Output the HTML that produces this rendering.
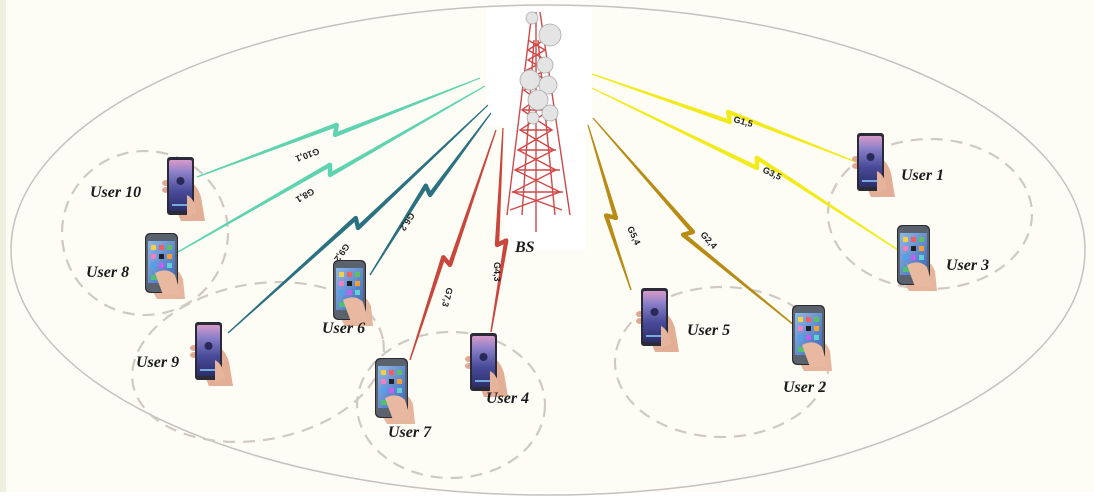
<!DOCTYPE html>
<html><head><meta charset="utf-8"><style>
html,body{margin:0;padding:0;background:#fff}
svg{display:block}
.u{font-family:"Liberation Serif",serif;font-style:italic;font-weight:bold;font-size:16px;fill:#1a1a1a}
.g{font-family:"Liberation Sans",sans-serif;font-weight:bold;font-size:9px;fill:#222}
</style></head><body>
<svg id="s" width="1094" height="503" viewBox="0 0 1094 503" xmlns="http://www.w3.org/2000/svg">
<defs>
<linearGradient id="scrA" x1="0" y1="0" x2="0" y2="1">
<stop offset="0" stop-color="#d79ac8"/><stop offset="0.25" stop-color="#8a7fc8"/><stop offset="0.6" stop-color="#4a4c9a"/><stop offset="1" stop-color="#2c2e6a"/></linearGradient>
<linearGradient id="scrB" x1="0" y1="0" x2="1" y2="1">
<stop offset="0" stop-color="#8fb8e8"/><stop offset="1" stop-color="#3c66b8"/></linearGradient>
<g id="pa">
<path d="M18 22 Q30 26 34 40 L38 64 L14 64 L8 50 Z" fill="#e2ae95"/>
<ellipse cx="-1" cy="26" rx="4" ry="3" fill="#e0a890"/>
<ellipse cx="-1" cy="33" rx="4" ry="3" fill="#e0a890"/>
<rect x="0" y="0" width="27" height="58" rx="3" fill="#2b2b38"/>
<rect x="2" y="3" width="23" height="51" rx="2" fill="url(#scrA)"/>
<circle cx="13.5" cy="24" r="4" fill="#2a2a5a"/>
<rect x="5" y="47" width="17" height="2" fill="#7ad"/>
<path d="M20 38 Q28 42 30 56 L20 60 Z" fill="#e6b49b"/>
</g>
<g id="pb">
<path d="M16 30 Q32 32 38 46 L40 66 L12 66 L4 52 Z" fill="#e5b59c"/>
<rect x="0" y="0" width="33" height="60" rx="5" fill="#2a2a30"/>
<rect x="1" y="1" width="31" height="58" rx="5" fill="#8a9aaa" opacity="0.5"/>
<rect x="3" y="8" width="27" height="42" fill="url(#scrB)"/>
<rect x="6" y="12" width="5" height="5" fill="#f5d040"/><rect x="14" y="12" width="5" height="5" fill="#f06060"/><rect x="22" y="12" width="5" height="5" fill="#60c060"/>
<rect x="6" y="21" width="5" height="5" fill="#f080c0"/><rect x="14" y="21" width="5" height="5" fill="#222"/><rect x="22" y="21" width="5" height="5" fill="#f5a030"/>
<rect x="6" y="30" width="5" height="5" fill="#50a0f0"/><rect x="14" y="30" width="5" height="5" fill="#c060f0"/><rect x="22" y="30" width="5" height="5" fill="#60d0d0"/>
<rect x="6" y="42" width="21" height="5" fill="#50c070"/>
<circle cx="16.5" cy="55" r="2.5" fill="#555"/>
<path d="M10 40 Q22 34 30 42 L36 62 L18 62 Z" fill="#e8b8a0"/>
</g>
</defs>
<rect width="1094" height="503" fill="#fdfdf6"/>
<rect x="0" y="0" width="6" height="503" fill="#eef0e0"/>
<rect x="0" y="492" width="1094" height="11" fill="#fff"/>
<ellipse cx="548" cy="250" rx="537" ry="245" fill="none" stroke="#c4c2bc" stroke-width="1.5"/>
<g fill="none" stroke="#cfc9c2" stroke-width="2.2" stroke-dasharray="12 8">
<ellipse cx="145" cy="233" rx="83" ry="82"/>
<ellipse cx="258" cy="362" rx="127" ry="78" transform="rotate(-10 258 362)"/>
<ellipse cx="451" cy="405" rx="94" ry="73"/>
<ellipse cx="722" cy="362" rx="107" ry="75"/>
<ellipse cx="930" cy="214" rx="102" ry="75"/>
</g>
<!-- tower -->
<rect x="487" y="8" width="105" height="118" fill="#fff"/>
<rect x="505" y="120" width="80" height="130" fill="#fff"/>
<g stroke="#d04848" stroke-width="1.4" fill="none">
<path d="M532 12 L507 215 M540 12 L570 215 M536 12 L536 232 M534 40 L522 215 M538 40 L555 215"/>
<path d="M528 40 L545 50 L528 60 L546 70 L526 80 L548 90 L522 110 L552 130 L518 150 L556 170 L513 192 L562 210"/>
<path d="M544 40 L528 50 L546 60 L527 70 L547 80 L524 90 L550 110 L520 130 L554 150 L515 170 L560 192 L510 210"/>
<path d="M520 130 L552 130 M518 150 L556 150 M515 170 L560 170 M512 192 L563 192 M523 110 L550 110"/>
</g>
<g fill="#e4e4e4" stroke="#aaa" stroke-width="0.8">
<circle cx="550" cy="35" r="11"/><circle cx="545" cy="65" r="8"/><circle cx="530" cy="80" r="10"/>
<circle cx="548" cy="85" r="9"/><circle cx="538" cy="100" r="10"/><circle cx="550" cy="113" r="8"/><circle cx="532" cy="18" r="6"/>
<circle cx="533" cy="118" r="6"/>
</g>
<text class="u" x="515" y="252">BS</text>
<g id="links"></g>
<text class="g" transform="translate(318,148) rotate(160)">G10,1</text>
<text class="g" transform="translate(312,188) rotate(150)">G8,1</text>
<text class="g" transform="translate(345,243) rotate(125)">G9,2</text>
<text class="g" transform="translate(410,212) rotate(123)">G6,2</text>
<text class="g" transform="translate(447,287) rotate(105)">G7,3</text>
<text class="g" transform="translate(494,262) rotate(90)">G4,3</text>
<text class="g" transform="translate(627,228) rotate(65)">G5,4</text>
<text class="g" transform="translate(700,235) rotate(48)">G2,4</text>
<text class="g" transform="translate(733,122) rotate(15)">G1,5</text>
<text class="g" transform="translate(762,172) rotate(25)">G3,5</text>
<use href="#pa" x="167" y="157"/>
<use href="#pb" x="145" y="233"/>
<use href="#pa" x="195" y="322"/>
<use href="#pb" x="333" y="260"/>
<use href="#pb" x="375" y="358"/>
<use href="#pa" x="470" y="333"/>
<use href="#pa" x="641" y="288"/>
<use href="#pb" x="792" y="305"/>
<use href="#pa" x="857" y="133"/>
<use href="#pb" x="897" y="225"/>
<text class="u" x="90" y="197">User 10</text>
<text class="u" x="86" y="277">User 8</text>
<text class="u" x="136" y="367">User 9</text>
<text class="u" x="322" y="333">User 6</text>
<text class="u" x="388" y="437">User 7</text>
<text class="u" x="486" y="403">User 4</text>
<text class="u" x="687" y="335">User 5</text>
<text class="u" x="783" y="392">User 2</text>
<text class="u" x="901" y="180">User 1</text>
<text class="u" x="946" y="270">User 3</text>
</svg>
<script>
var L=[
[480,78,335,135,197,177,"#5fd3b0",1],
[485,86,330,175,178,252,"#5fd3b0",1],
[488,105,358,228,228,333,"#2b7182",1],
[491,113,430,195,370,275,"#2b7182",1],
[496,130,450,265,410,360,"#c9463c",1],
[503,128,497,245,491,332,"#c9463c",-1],
[588,125,616,218,631,290,"#b88c14",1],
[593,118,693,232,800,330,"#b88c14",1],
[592,74,730,122,856,162,"#f2ea1a",-1],
[592,88,757,168,898,250,"#f2ea1a",-1]];
var g=document.getElementById('links'),ns="http://www.w3.org/2000/svg";
L.forEach(function(a){
var dx=a[4]-a[0],dy=a[5]-a[1],len=Math.hypot(dx,dy),ux=dx/len,uy=dy/len,nx=-uy*a[7],ny=ux*a[7];
var h=9,px=a[2],py=a[3];
var q1=[px+nx*h-ux*5,py+ny*h-uy*5];
function seg(x1,y1,x2,y2,w1,w2){var p=document.createElementNS(ns,'polygon');
var ddx=x2-x1,ddy=y2-y1,l=Math.hypot(ddx,ddy),mx=-ddy/l,my=ddx/l;
p.setAttribute('points',[x1+mx*w1,y1+my*w1,x2+mx*w2,y2+my*w2,x2-mx*w2,y2-my*w2,x1-mx*w1,y1-my*w1].join(','));
p.setAttribute('fill',a[6]);g.appendChild(p);}
seg(a[0],a[1],px,py,0.6,2.2);
seg(px,py,q1[0],q1[1],2.2,2.2);
seg(q1[0],q1[1],a[4],a[5],2.2,0.7);
[[px,py],q1].forEach(function(pt){var c=document.createElementNS(ns,'circle');c.setAttribute('cx',pt[0]);c.setAttribute('cy',pt[1]);c.setAttribute('r',2.1);c.setAttribute('fill',a[6]);g.appendChild(c);});
});
</script>
</body></html>
